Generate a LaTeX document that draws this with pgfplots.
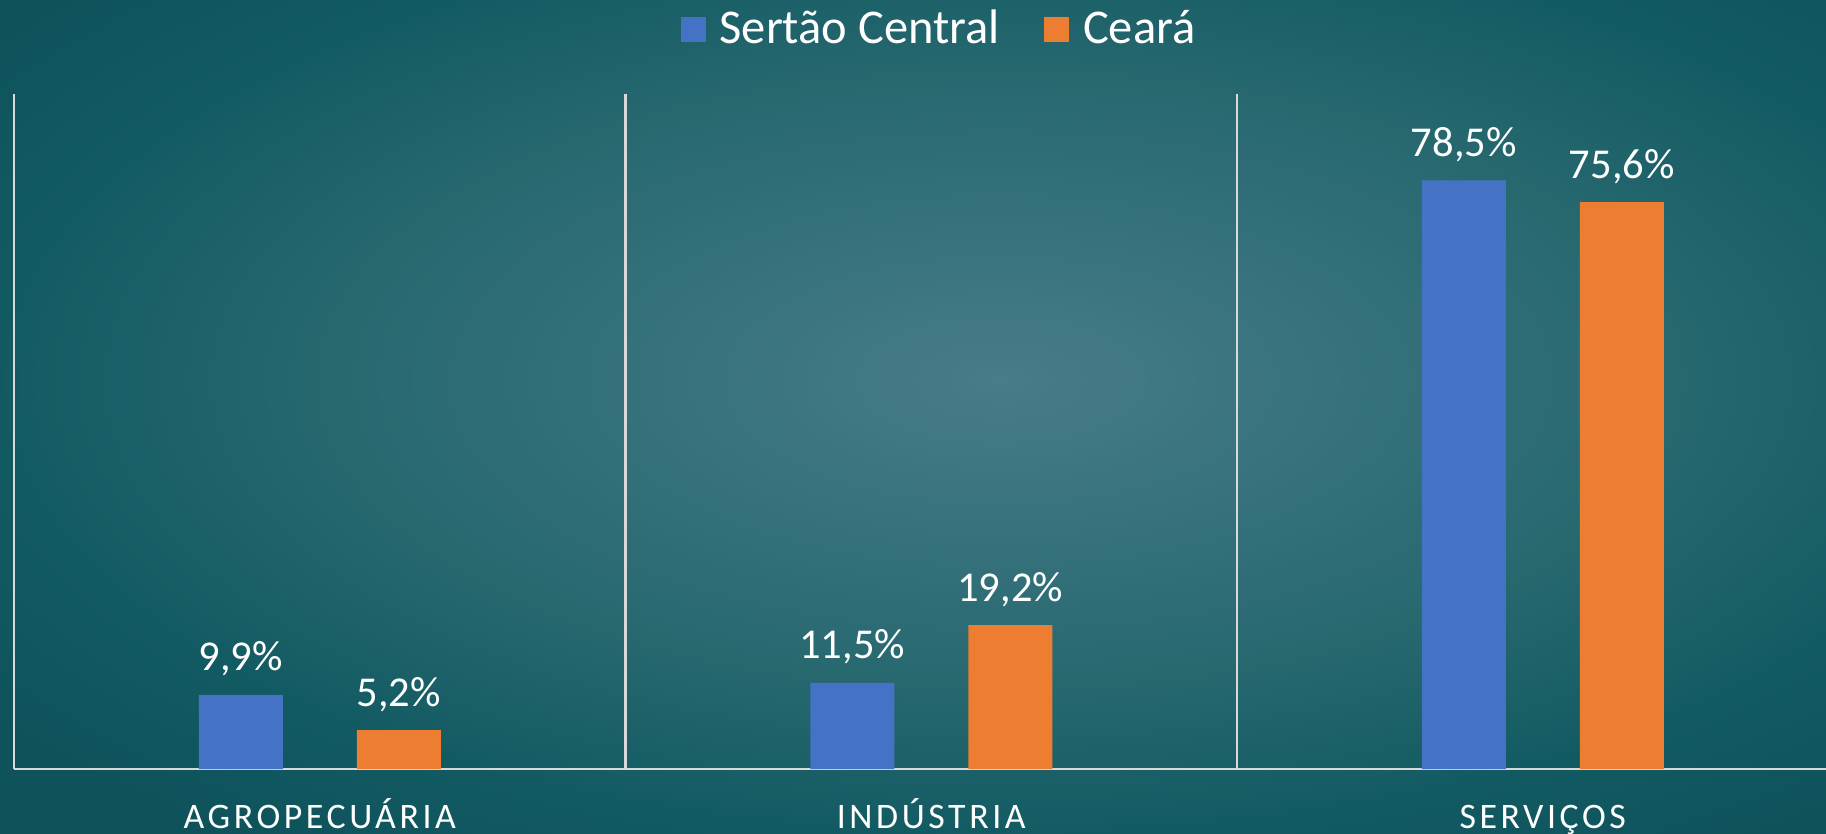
\documentclass[border=0pt]{standalone}
\usepackage{pgfplots}
\pgfplotsset{compat=1.18}
\usepackage{fontspec}
\setmainfont{Carlito}
\newfontfamily\catfont[LetterSpace=10]{Carlito}
\definecolor{blueC}{HTML}{4472C4}
\definecolor{orangeC}{HTML}{ED7D31}
\definecolor{axc}{HTML}{D9D9D9}
\definecolor{bg0}{HTML}{477C88}
\definecolor{bg1}{HTML}{37727D}
\definecolor{bg2}{HTML}{27686F}
\definecolor{bg3}{HTML}{125A62}
\definecolor{bg4}{HTML}{0E525A}
\pgfdeclareradialshading{bgshade}{\pgfpoint{0bp}{0bp}}{color(0bp)=(bg0); color(18bp)=(bg1); color(37bp)=(bg2); color(55bp)=(bg3); color(70bp)=(bg4); color(80bp)=(bg4)}
\begin{document}
\begin{tikzpicture}
\useasboundingbox (0,0) rectangle (182.6mm,83.3mm);
\clip (0,0) rectangle (182.6mm,83.3mm);
\node[inner sep=0pt, outer sep=0pt, xscale=5.176, yscale=2.358, transform shape] at (100mm,45.3mm) {\pgfuseshading{bgshade}};
\begin{axis}[
  at={(1.4mm,6.4mm)}, anchor=south west,
  scale only axis, width=183.45mm, height=67.5mm,
  xmin=-0.5, xmax=2.5, ymin=0, ymax=90,
  enlargelimits=false,
  axis x line*=bottom, axis y line*=left,
  axis line style={-, draw=axc, line width=0.6pt},
  ytick=\empty,
  xtick={0,1,2},
  xticklabels={AGROPECUÁRIA, INDÚSTRIA, SERVIÇOS},
  minor xtick={0.5,1.5,2.5},
  xminorgrids=true,
  minor grid style={draw=axc, line width=0.6pt},
  major tick length=0pt, minor tick length=0pt,
  xticklabel style={font=\catfont\fontsize{10.2}{12}\selectfont, text=white, anchor=base, yshift=-5.9mm},
  /pgf/number format/assume math mode=true,
  ybar, bar width=8.4mm,
  nodes near coords={\pgfmathprintnumber[fixed,fixed zerofill,precision=1,use comma]{\pgfplotspointmeta}\%},
  every node near coord/.append style={font=\fontsize{12.1}{14}\selectfont, text=white, anchor=base, yshift=2.4mm},
  legend columns=2,
  legend image code/.code={\path (0mm,2.2mm); \fill[#1,draw=none] (0mm,-1.25mm) rectangle (2.5mm,1.25mm);},
  legend style={at={(rel axis cs:0.5056,1.096)}, anchor=center, draw=none, fill=none, text=white,
    font=\fontsize{13.8}{16}\selectfont,
    /tikz/every odd column/.append style={column sep=0.7mm},
    /tikz/every even column/.append style={column sep=3.7mm}},
]
\addplot[fill=blueC, draw=none, bar shift=-7.9mm] coordinates {(0,9.9) (1,11.5) (2,78.5)};
\addlegendentry{Sertão Central}
\addplot[fill=orangeC, draw=none, bar shift=7.9mm] coordinates {(0,5.2) (1,19.2) (2,75.6)};
\addlegendentry{Ceará}
\end{axis}
\end{tikzpicture}
\end{document}
